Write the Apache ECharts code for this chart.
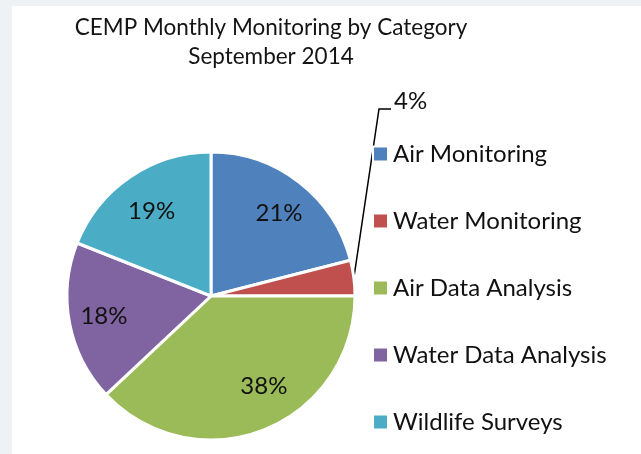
<!DOCTYPE html>
<html>
<head>
<meta charset="utf-8">
<script src="https://cdn.jsdelivr.net/npm/echarts@6/dist/echarts.min.js"></script>
<style>
html,body{margin:0;padding:0;background:#eef2f5;}
#chart{width:641px;height:454px;}
</style>
</head>
<body>
<div id="chart"></div>
<script>
const titleLines = ['CEMP Monthly Monitoring by Category', 'September 2014'];
const categories = ['Air Monitoring', 'Water Monitoring', 'Air Data Analysis', 'Water Data Analysis', 'Wildlife Surveys'];
const values = [21, 4, 38, 18, 19];
const colors = ['#4f81bd', '#c0504d', '#9bbb59', '#8064a2', '#4bacc6'];

const FONT = 'Lato';
const R = 144;
const center = [211, 296];

const mainData = categories.map((c, i) => ({
  name: c,
  value: values[i],
  itemStyle: { color: colors[i] },
  label: i === 1 ? { show: true, position: 'outside' } : { show: false },
  labelLine: i === 1 ? { show: true } : { show: false }
}));
const labelData = categories.map((c, i) => ({
  name: c,
  value: values[i],
  label: { show: i !== 1 }
}));

// small nudges for the inside labels (pixel offsets)
const insideNudge = { 0: [0, 5], 2: [12, -13], 3: [2, -1], 4: [3, 7] };

const chart = echarts.init(document.getElementById('chart'), null, { renderer: 'canvas' });
chart.setOption({
  backgroundColor: '#eef2f5',
  animation: false,
  graphic: [{
    type: 'rect', left: 12, top: 6, z: -10, silent: true,
    shape: { width: 629, height: 448 },
    style: { fill: '#ffffff' }
  }],
  title: {
    text: titleLines.join('\n'),
    left: 266, top: 8, textAlign: 'center',
    textStyle: { fontFamily: FONT, fontSize: 22.5, fontWeight: 'normal', color: '#141414', lineHeight: 29 }
  },
  legend: {
    orient: 'vertical',
    left: 372, top: 142,
    padding: 0,
    itemWidth: 15, itemHeight: 15, itemGap: 43,
    icon: 'rect',
    textStyle: { fontFamily: FONT, fontSize: 24, color: '#111111', padding: [0, 0, 0, 0] },
    data: categories
  },
  series: [{
    type: 'pie',
    center: center,
    radius: [0, R],
    startAngle: 90,
    clockwise: true,
    silent: true,
    avoidLabelOverlap: false,
    itemStyle: { borderColor: '#ffffff', borderWidth: 3 },
    label: { formatter: '{c}%', fontFamily: FONT, fontSize: 24, color: '#111111' },
    labelLine: { length: 10, length2: 12, lineStyle: { color: '#000000', width: 1.5 } },
    labelLayout: function (p) {
      if (p.dataIndex === 1) {
        const lx = 394, ly = 101;
        const start = p.labelLinePoints ? p.labelLinePoints[0] : [356, 278];
        return {
          x: lx, y: ly, align: 'left', verticalAlign: 'middle',
          labelLinePoints: [start, [lx - 15, ly + 8], [lx - 3, ly + 8]]
        };
      }
    },
    data: mainData
  }, {
    type: 'pie',
    center: center,
    radius: [0, R * 1.5],
    startAngle: 90,
    clockwise: true,
    silent: true,
    itemStyle: { color: 'rgba(0,0,0,0)' },
    label: { position: 'inside', formatter: '{c}%', fontFamily: FONT, fontSize: 24, color: '#111111' },
    labelLine: { show: false },
    labelLayout: function (p) {
      const n = insideNudge[p.dataIndex];
      if (n) return { dx: n[0], dy: n[1] };
    },
    data: labelData,
    z: 5
  }]
});
</script>
</body>
</html>
